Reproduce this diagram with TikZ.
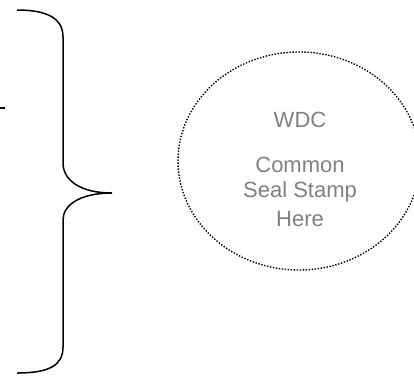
\documentclass[tikz,border=0pt]{standalone}
\usepackage{fontspec}
\setmainfont{Liberation Sans}
\usetikzlibrary{shapes.geometric}
\begin{document}
\begin{tikzpicture}[x=1pt,y=-1pt,
  bracestyle/.style={line width=1.5pt, black},
  seal/.style={line width=1.4pt, black, dash pattern=on 1.4pt off 1.6pt},
  sealtext/.style={text=black!50, font=\fontsize{22}{26}\selectfont, inner sep=0pt, anchor=center}]
\useasboundingbox (0,0) rectangle (414,376);
\coordinate (bt) at (17,10);
\coordinate (bu1) at (63,37);
\coordinate (bu2) at (63,163);
\coordinate (tip) at (112,193);
\coordinate (bl1) at (63,220);
\coordinate (bl2) at (63,347);
\coordinate (bb) at (17,373);
\draw[bracestyle] (bt) .. controls (50,10) and (63,20) .. (bu1) -- (bu2)
  .. controls (63,180) and (80,193) .. (tip)
  .. controls (80,193) and (63,205) .. (bl1) -- (bl2)
  .. controls (63,365) and (50,373) .. (bb);
\coordinate (d1) at (0,108);
\coordinate (d2) at (5,108);
\draw[line width=1.5pt] (d1) -- (d2);
\node[seal, draw, ellipse, minimum width=242pt, minimum height=218pt, inner sep=0pt] (circ) at (299,161) {};
\node[sealtext] (wdc) at (300,120) {WDC};
\node[sealtext] (l1) at (300,165) {Common};
\node[sealtext] (l2) at (300,192) {Seal Stamp};
\node[sealtext] (l3) at (300,219) {Here};
\end{tikzpicture}
\end{document}
